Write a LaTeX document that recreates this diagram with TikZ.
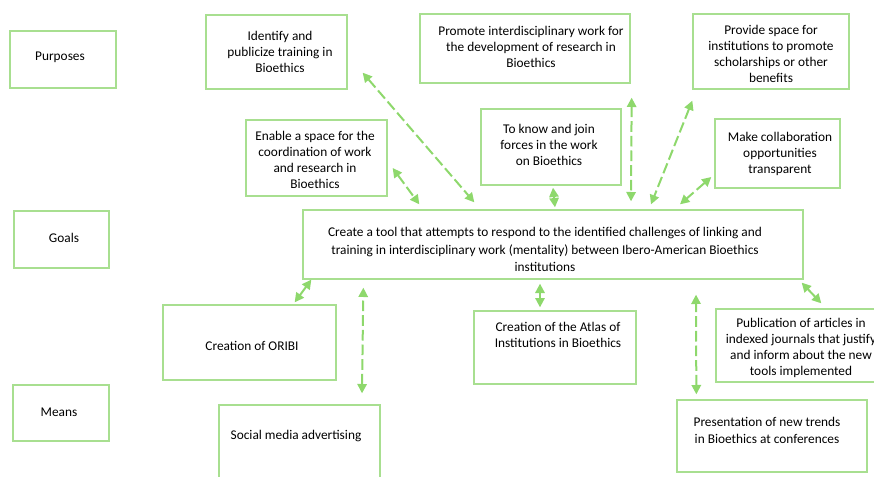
\documentclass[tikz,border=0pt]{standalone}
\usepackage{fontspec}
\setmainfont{Carlito}
\usetikzlibrary{arrows.meta,calc}
\definecolor{boxgreen}{HTML}{A8DF90}
\definecolor{arrgreen}{HTML}{8ED86C}
\begin{document}
\begin{tikzpicture}[x=0.75pt,y=-0.75pt,
  box/.style={draw=boxgreen,line width=1pt,rectangle,inner sep=0pt},
  lbl/.style={align=center,font=\fontsize{10pt}{12.2pt}\selectfont,inner sep=0pt},
  arr/.style={draw=arrgreen,line width=1.5pt,{Triangle[length=7pt,width=7pt]}-{Triangle[length=7pt,width=7pt]}},
  darr/.style={arr,dash pattern=on 8pt off 3pt}]
\useasboundingbox (0,0) rectangle (874,477);
\clip (0,0) rectangle (874,477);
% boxes
\node[box,minimum width=106*0.75pt,minimum height=57*0.75pt] (purp) at (63,59.5) {};
\node[box,minimum width=95*0.75pt,minimum height=57*0.75pt] (goals) at (61.5,239.5) {};
\node[box,minimum width=96*0.75pt,minimum height=56*0.75pt] (means) at (61,413) {};
\node[box,minimum width=141*0.75pt,minimum height=74*0.75pt] (ident) at (276.5,52) {};
\node[box,minimum width=141*0.75pt,minimum height=76*0.75pt] (enable) at (316.5,158) {};
\node[box,minimum width=210*0.75pt,minimum height=69*0.75pt] (promo) at (525,48.5) {};
\node[box,minimum width=156*0.75pt,minimum height=75*0.75pt] (provide) at (771,51.5) {};
\node[box,minimum width=140*0.75pt,minimum height=76*0.75pt] (know) at (551,147) {};
\node[box,minimum width=125*0.75pt,minimum height=69*0.75pt] (make) at (777.5,153.5) {};
\node[box,minimum width=500*0.75pt,minimum height=69*0.75pt] (central) at (553,244.5) {};
\node[box,minimum width=173*0.75pt,minimum height=75*0.75pt] (oribi) at (249.5,342.5) {};
\node[box,minimum width=161*0.75pt,minimum height=90*0.75pt] (social) at (299.5,450) {};
\node[box,minimum width=162*0.75pt,minimum height=73*0.75pt] (atlas) at (555,347.5) {};
\node[box,minimum width=170*0.75pt,minimum height=73*0.75pt] (publ) at (801,345.5) {};
\node[box,minimum width=190*0.75pt,minimum height=72*0.75pt] (pres) at (772,436) {};
% texts
\node[lbl] (tpurp) at (60,57) {Purposes};
\node[lbl] (tgoals) at (64,238) {Goals};
\node[lbl] (tmeans) at (59,412) {Means};
\node[lbl] (tident) at (280,52) {Identify and\\publicize training in\\Bioethics};
\node[lbl] (tenable) at (315,160) {Enable a space for the\\coordination of work\\and research in\\Bioethics};
\node[lbl] (tpromo) at (531,47) {Promote interdisciplinary work for\\the development of research in\\Bioethics};
\node[lbl] (tprovide) at (771,54) {Provide space for\\institutions to promote\\scholarships or other\\benefits};
\node[lbl] (tknow) at (549,145) {To know and join\\forces in the work\\on Bioethics};
\node[lbl] (tmake) at (780,154) {Make collaboration\\opportunities\\transparent};
\node[lbl,font=\fontsize{10pt}{13.1pt}\selectfont] (tcentral) at (545,249.5) {Create a tool that attempts to respond to the identified challenges of linking and\\training in interdisciplinary work (mentality) between Ibero-American Bioethics\\institutions};
\node[lbl] (toribi) at (252,346) {Creation of ORIBI};
\node[lbl] (tsocial) at (296,436) {Social media advertising};
\node[lbl] (tatlas) at (558,335) {Creation of the Atlas of\\Institutions in Bioethics};
\node[lbl] (tpubl) at (801,348) {Publication of articles in\\indexed journals that justify\\and inform about the new\\tools implemented};
\node[lbl] (tpres) at (767,430.5) {Presentation of new trends\\in Bioethics at conferences};
% connectors
\draw[darr] ([shift={(15,-17)}]ident.south east) -- ([shift={(172,-7)}]central.north west);
\draw[darr] ([shift={(5,10)}]enable.east) -- ([shift={(117,-5)}]central.north west);
\draw[arr] ([shift={(2,2)}]know.south) -- ([shift={(2,-2)}]central.north);
\draw[darr] ([shift={(1,14)}]promo.south east) -- ([shift={(78,-8)}]central.north);
\draw[darr] ([shift={(0,11)}]provide.south west) -- ([shift={(98,-5)}]central.north);
\draw[darr] ([shift={(-3,23.5)}]make.west) -- ([shift={(127,-5)}]central.north);
\draw[arr] ([shift={(-42,-2)}]oribi.north east) -- ([shift={(9,0)}]central.south west);
\draw[darr] ([shift={(62.5,-11)}]social.north) -- ([shift={(61,8)}]central.south west);
\draw[arr] ([shift={(-15,-3)}]atlas.north) -- ([shift={(-13,4)}]central.south);
\draw[darr] ([shift={(20,-5)}]pres.north west) -- ([shift={(143,15)}]central.south);
\draw[arr] ([shift={(106,-5)}]publ.north west) -- ([shift={(-2,3)}]central.south east);
\end{tikzpicture}
\end{document}
